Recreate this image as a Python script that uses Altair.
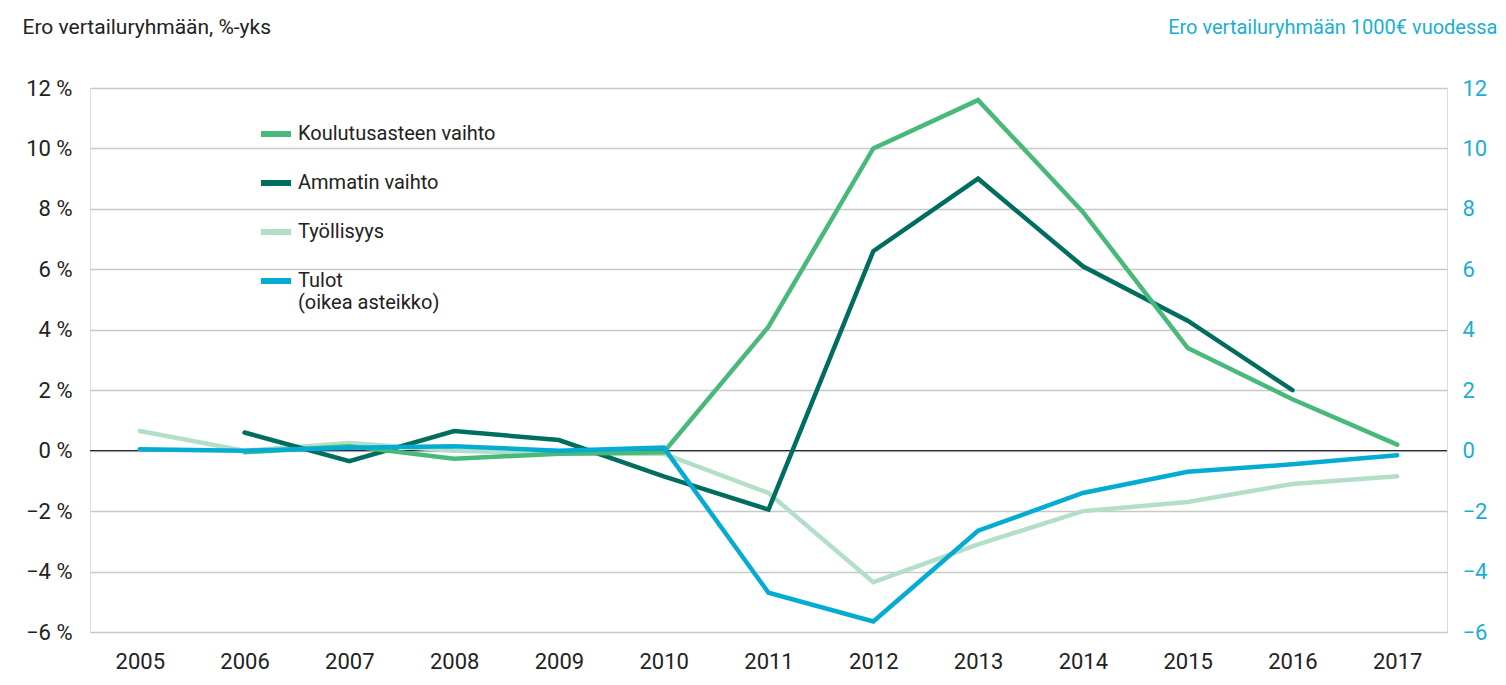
import altair as alt
import pandas as pd

years = list(range(2005, 2018))
names = ["Koulutusasteen vaihto", "Ammatin vaihto", "Työllisyys", "Tulot"]
colors = ["#48b97b", "#006e5e", "#b3dfc9", "#04acd4"]

koulutus = [None, -0.05, 0.15, -0.27, -0.1, -0.05, 4.1, 10.0, 11.6, 7.9, 3.4, 1.7, 0.2]
ammatti = [None, 0.6, -0.35, 0.65, 0.35, -0.85, -1.95, 6.6, 9.0, 6.1, 4.3, 2.0, None]
tyollisyys = [0.65, 0.0, 0.25, 0.0, -0.1, -0.1, -1.4, -4.35, -3.1, -2.0, -1.7, -1.1, -0.85]
tulot = [0.05, 0.0, 0.1, 0.15, 0.0, 0.1, -4.7, -5.65, -2.65, -1.4, -0.7, -0.45, -0.15]

rows = []
for name, vals in zip(names, [koulutus, ammatti, tyollisyys, tulot]):
    for y, v in zip(years, vals):
        if v is not None:
            rows.append({"vuosi": y, "sarja": name, "arvo": v})
df = pd.DataFrame(rows)
zero = pd.DataFrame({"arvo": [0]})

FONT = "Roboto"
TXT = "#222222"
BLUE = "#1aaed5"

yscale = alt.Scale(domain=[-6, 12], nice=False, zero=False)
x_enc = alt.X(
    "vuosi:O",
    scale=alt.Scale(type="point", padding=0.475),
    axis=alt.Axis(title=None, labelAngle=0, domain=False, ticks=False,
                  labelFontSize=22, labelPadding=19, labelColor=TXT, labelFont=FONT, grid=False),
)
y_left = alt.Y(
    "arvo:Q",
    scale=yscale,
    axis=alt.Axis(
        values=list(range(-6, 13, 2)),
        labelExpr="(datum.value < 0 ? '−' : '') + abs(datum.value) + ' %'",
        grid=True, gridColor="#c8c8c8", gridWidth=1.5,
        domain=False, ticks=False, labelFontSize=22, labelPadding=18,
        labelColor=TXT, labelFont=FONT,
        title="Ero vertailuryhmään, %-yks", titleAngle=0, titleX=-68, titleY=-55,
        titleAlign="left", titleBaseline="alphabetic", titleFontSize=21,
        titleFontWeight="normal", titleColor=TXT, titleFont=FONT,
    ),
)
y_right = alt.Y(
    "arvo:Q",
    scale=yscale,
    axis=alt.Axis(
        orient="right",
        values=list(range(-6, 13, 2)),
        labelExpr="(datum.value < 0 ? '−' : '') + abs(datum.value)",
        grid=False, domain=False, ticks=False, labelFontSize=22, labelPadding=15,
        labelColor=BLUE, labelFont=FONT,
        title="Ero vertailuryhmään 1000€ vuodessa", titleAngle=0, titleX=50, titleY=-55,
        titleAlign="right", titleBaseline="alphabetic", titleFontSize=20,
        titleFontWeight="normal", titleColor=BLUE, titleFont=FONT,
    ),
)
color_enc = alt.Color(
    "sarja:N",
    scale=alt.Scale(domain=names, range=colors),
    legend=alt.Legend(
        orient="none", legendX=168, legendY=28, title=None,
        symbolType="stroke", symbolStrokeWidth=6, symbolSize=900,
        labelFontSize=20, labelFont=FONT, labelColor=TXT, labelPadding=17,
        rowPadding=19, labelLimit=400,
        labelExpr="datum.label == 'Tulot' ? ['Tulot', '(oikea asteikko)'] : datum.label",
    ),
)

base = alt.Chart(df)


def series(name, y):
    return base.transform_filter(alt.datum.sarja == name).mark_line(
        strokeWidth=4.5, strokeCap="round"
    ).encode(x=x_enc, y=y, color=color_enc)


zero_rule = alt.Chart(zero).mark_rule(color="black", strokeWidth=1).encode(y=y_left)

left = alt.layer(
    zero_rule,
    series("Työllisyys", y_left),
    series("Ammatin vaihto", y_left),
    series("Koulutusasteen vaihto", y_left),
)
right = series("Tulot", y_right)

chart = (
    alt.layer(left, right)
    .resolve_scale(y="independent")
    .properties(
        width=1357, height=544,
        padding={"left": 82, "top": 80, "right": 51, "bottom": 44},
        autosize=alt.AutoSizeParams(type="none"),
    )
    .configure_view(stroke=None)
    .configure(font=FONT)
)

chart.save("out.html", embed_options={"renderer": "svg", "actions": False})
